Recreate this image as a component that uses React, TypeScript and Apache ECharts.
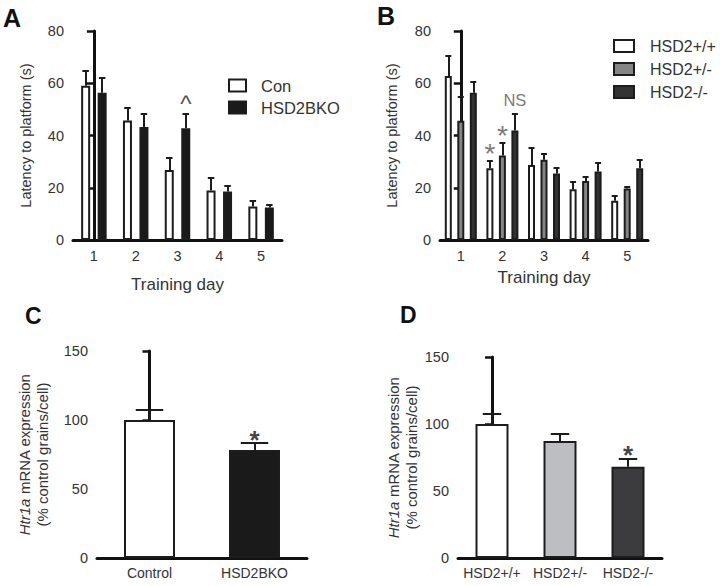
import React, { useEffect, useRef } from "react";
import * as echarts from "echarts";

// ---------- data ----------
const days = ["1", "2", "3", "4", "5"];
// Panel A
const conMean = [59.0, 45.7, 26.8, 18.9, 12.8];
const conErr = [5.9, 5.1, 4.5, 5.0, 2.1];
const conMark = ["", "", "", "", ""];
const bkoMean = [56.4, 43.3, 42.8, 18.6, 12.4];
const bkoErr = [5.8, 5.2, 5.4, 2.2, 1.0];
const bkoMark = ["", "", "^", "", ""];
// Panel B
const wtMean = [62.8, 27.5, 28.7, 19.4, 15.0];
const wtErr = [7.7, 2.9, 6.7, 3.0, 1.9];
const wtMark = ["", "*", "", "", ""];
const hetMean = [45.6, 32.3, 30.7, 22.6, 19.7];
const hetErr = [9.1, 5.1, 2.3, 1.7, 0.5];
const hetMark = ["", "*", "", "", ""];
const nullMean = [56.4, 41.9, 25.5, 26.2, 27.5];
const nullErr = [4.3, 6.3, 2.0, 3.2, 3.2];
const nullMark = ["", "NS", "", "", ""];
// Panel C
const cCats = ["Control", "HSD2BKO"];
const cMean = [100, 78.3];
const cErr = [7.7, 5.3];
const cMark = ["", "*"];
// Panel D
const dCats = ["HSD2+/+", "HSD2+/-", "HSD2-/-"];
const dMean = [100, 87.3, 68.1];
const dErr = [8.0, 5.7, 6.3];
const dMark = ["", "", "*"];

const latencyTicks = { min: 0, max: 80, interval: 20 };
const exprTicks = { min: 0, max: 150, interval: 50 };

// ---------- styles ----------
const FONT = "Liberation Sans";
const AX = "#1c1c1c";
const LBL = "#333";

// grid geometry (px)
const grids = [
  { left: 73, top: 31, width: 209, height: 209 },
  { left: 440, top: 31, width: 208, height: 209 },
  { left: 97, top: 351, width: 210, height: 207 },
  { left: 458, top: 357, width: 204, height: 201 },
];

// offset of bar k (of n) from category centre, in category units
function offUnits(gi: number, nCats: number, k: number, n: number, barW: number, gap: number) {
  const band = grids[gi].width / nCats;
  const total = n * barW + (n - 1) * gap;
  const off = -total / 2 + barW / 2 + k * (barW + gap);
  return off / band;
}

function errLines(gi: number, nCats: number, off: number, capPx: number, means: number[], errs: number[]) {
  const cap = capPx / (grids[gi].width / nCats);
  const data: any[] = [];
  means.forEach((m, i) => {
    const x = i + off;
    const top = m + errs[i];
    data.push({ coords: [[x, m], [x, top]] });
    data.push({ coords: [[x - cap, top], [x + cap, top]] });
  });
  return {
    type: "lines",
    coordinateSystem: "cartesian2d",
    xAxisIndex: 4 + gi,
    yAxisIndex: gi,
    z: 5,
    silent: true,
    lineStyle: { color: AX, width: 2, opacity: 1, curveness: 0 },
    data,
  };
}

function markSeries(gi: number, off: number, means: number[], errs: number[], texts: string[], ms: any) {
  const data: any[] = [];
  texts.forEach((t, i) => {
    if (t) data.push({ value: [i + off, means[i] + errs[i]], label: { formatter: t } });
  });
  return {
    type: "scatter",
    xAxisIndex: 4 + gi,
    yAxisIndex: gi,
    z: 6,
    silent: true,
    symbolSize: 0,
    data,
    label: {
      show: true,
      position: "top",
      distance: 0,
      offset: [0, ms.dy],
      color: ms.color,
      fontSize: ms.size,
      fontWeight: ms.weight || "normal",
      fontFamily: FONT,
    },
  };
}

function barSeries(gi: number, name: string, data: any[], fill: string, barW: number, gapPct: string) {
  return {
    type: "bar",
    name,
    xAxisIndex: gi,
    yAxisIndex: gi,
    data,
    barWidth: barW,
    barGap: gapPct,
    itemStyle: { color: fill, borderColor: AX, borderWidth: 2 },
  };
}

function makeY(gi: number, ticks: any, name: string, nameGap: number, rich = false) {
  return {
    type: "value",
    gridIndex: gi,
    min: ticks.min,
    max: ticks.max,
    interval: ticks.interval,
    splitLine: { show: false },
    axisLine: { show: true, lineStyle: { color: "#111", width: 3 } },
    axisTick: { show: true, length: 7, lineStyle: { color: "#111", width: 2.5 } },
    axisLabel: { color: LBL, fontSize: 14.5, fontFamily: FONT, margin: 9 },
    name,
    nameLocation: "middle",
    nameRotate: 90,
    nameGap,
    nameTextStyle: rich
      ? {
          color: LBL,
          fontSize: 15,
          fontFamily: FONT,
          lineHeight: 18,
          rich: { i: { fontStyle: "italic", fontSize: 15, fontFamily: FONT, color: LBL, lineHeight: 18 } },
        }
      : { color: LBL, fontSize: 14.5, fontFamily: FONT },
  };
}

function makeX(gi: number, cats: string[], name: string, nameGap: number, fs: number) {
  return {
    type: "category",
    gridIndex: gi,
    data: cats,
    axisLine: { show: true, lineStyle: { color: "#111", width: 3 } },
    axisTick: { show: false },
    axisLabel: { color: LBL, fontSize: fs, fontFamily: FONT, margin: 8, interval: 0 },
    name,
    nameLocation: "middle",
    nameGap,
    nameTextStyle: { color: LBL, fontSize: 17, fontFamily: FONT },
  };
}

function hiddenX(gi: number, nCats: number) {
  return { type: "value", gridIndex: gi, min: -0.5, max: nCats - 0.5, show: false, splitLine: { show: false } };
}

const titleOf = (t: string, left: number, top: number, s: number) => ({
  text: t,
  left,
  top,
  padding: 0,
  textStyle: { fontSize: s, fontWeight: "bold", color: "#111", fontFamily: FONT },
});

export default function App() {
  const ref = useRef<HTMLDivElement>(null);
  useEffect(() => {
    if (!ref.current) return;
    const chart = echarts.init(ref.current, undefined, { renderer: "svg" });
    const aW = 9, aGap = 7.5;
    const bW = 7, bGap = 5.5;
    const aOff = [0, 1].map((k) => offUnits(0, days.length, k, 2, aW, aGap));
    const bOff = [0, 1, 2].map((k) => offUnits(1, days.length, k, 3, bW, bGap));
    const starB = { color: "#555", size: 28, dy: 7 };
    const starCD = { color: "#111", size: 26, weight: "bold", dy: 10 };
    const caretA = { color: "#222", size: 24, dy: 1 };
    const option: any = {
      animation: false,
      title: [titleOf("A", 3, 5, 25), titleOf("B", 377, 3, 25), titleOf("C", 25, 304, 23), titleOf("D", 400, 303, 23)],
      legend: [
        {
          data: ["Con", "HSD2BKO"],
          orient: "vertical",
          left: 228,
          top: 77,
          padding: 0,
          itemWidth: 17,
          itemHeight: 12,
          itemGap: 5,
          icon: "rect",
          selectedMode: false,
          textStyle: { fontSize: 16.5, color: LBL, fontFamily: FONT, padding: [0, 0, 0, 10] },
        },
        {
          data: ["HSD2+/+", "HSD2+/-", "HSD2-/-"],
          orient: "vertical",
          left: 613,
          top: 38,
          padding: 0,
          itemWidth: 20,
          itemHeight: 12,
          itemGap: 7,
          icon: "rect",
          selectedMode: false,
          textStyle: { fontSize: 16, color: LBL, fontFamily: FONT, padding: [0, 0, 0, 11] },
        },
      ],
      grid: grids,
      xAxis: [
        makeX(0, days, "Training day", 36, 14.5),
        makeX(1, days, "Training day", 29, 14.5),
        makeX(2, cCats, "", 0, 14),
        makeX(3, dCats, "", 0, 14),
        hiddenX(0, days.length),
        hiddenX(1, days.length),
        hiddenX(2, cCats.length),
        hiddenX(3, dCats.length),
      ],
      yAxis: [
        makeY(0, latencyTicks, "Latency to platform (s)", 40),
        makeY(1, latencyTicks, "Latency to platform (s)", 41),
        makeY(2, exprTicks, "{i|Htr1a} mRNA expression\n(% control grains/cell)", 46, true),
        makeY(3, exprTicks, "{i|Htr1a} mRNA expression\n(% control grains/cell)", 28, true),
      ],
      series: [
        barSeries(0, "Con", conMean, "#ffffff", aW, `${(aGap / aW) * 100}%`),
        barSeries(0, "HSD2BKO", bkoMean, "#1a1a1a", aW, `${(aGap / aW) * 100}%`),
        errLines(0, days.length, aOff[0], 3.25, conMean, conErr),
        errLines(0, days.length, aOff[1], 3.25, bkoMean, bkoErr),
        markSeries(0, aOff[0], conMean, conErr, conMark, caretA),
        markSeries(0, aOff[1], bkoMean, bkoErr, bkoMark, caretA),

        barSeries(1, "HSD2+/+", wtMean, "#ffffff", bW, `${(bGap / bW) * 100}%`),
        barSeries(1, "HSD2+/-", hetMean, "#858585", bW, `${(bGap / bW) * 100}%`),
        barSeries(1, "HSD2-/-", nullMean, "#333333", bW, `${(bGap / bW) * 100}%`),
        errLines(1, days.length, bOff[0], 3, wtMean, wtErr),
        errLines(1, days.length, bOff[1], 3, hetMean, hetErr),
        errLines(1, days.length, bOff[2], 3, nullMean, nullErr),
        markSeries(1, bOff[0], wtMean, wtErr, wtMark, starB),
        markSeries(1, bOff[1], hetMean, hetErr, hetMark, starB),
        markSeries(1, bOff[2], nullMean, nullErr, nullMark, { color: "#555", size: 16.5, dy: -6 }),

        barSeries(2, "C", cMean.map((v, i) => ({ value: v, itemStyle: { color: ["#ffffff", "#1a1a1a"][i] } })), "#fff", 51, "0%"),
        errLines(2, cCats.length, 0, 13.75, cMean, cErr),
        markSeries(2, 0, cMean, cErr, cMark, starCD),

        barSeries(3, "D", dMean.map((v, i) => ({ value: v, itemStyle: { color: ["#ffffff", "#bdbec2", "#3c3c3e"][i] } })), "#fff", 33, "0%"),
        errLines(3, dCats.length, 0, 9.25, dMean, dErr),
        markSeries(3, 0, dMean, dErr, dMark, starCD),
      ],
    };
    chart.setOption(option);
    return () => chart.dispose();
  }, []);
  return (
    <div ref={ref} style={{ position: "fixed", left: 0, top: 0, width: 720, height: 586, background: "#fff" }} />
  );
}
